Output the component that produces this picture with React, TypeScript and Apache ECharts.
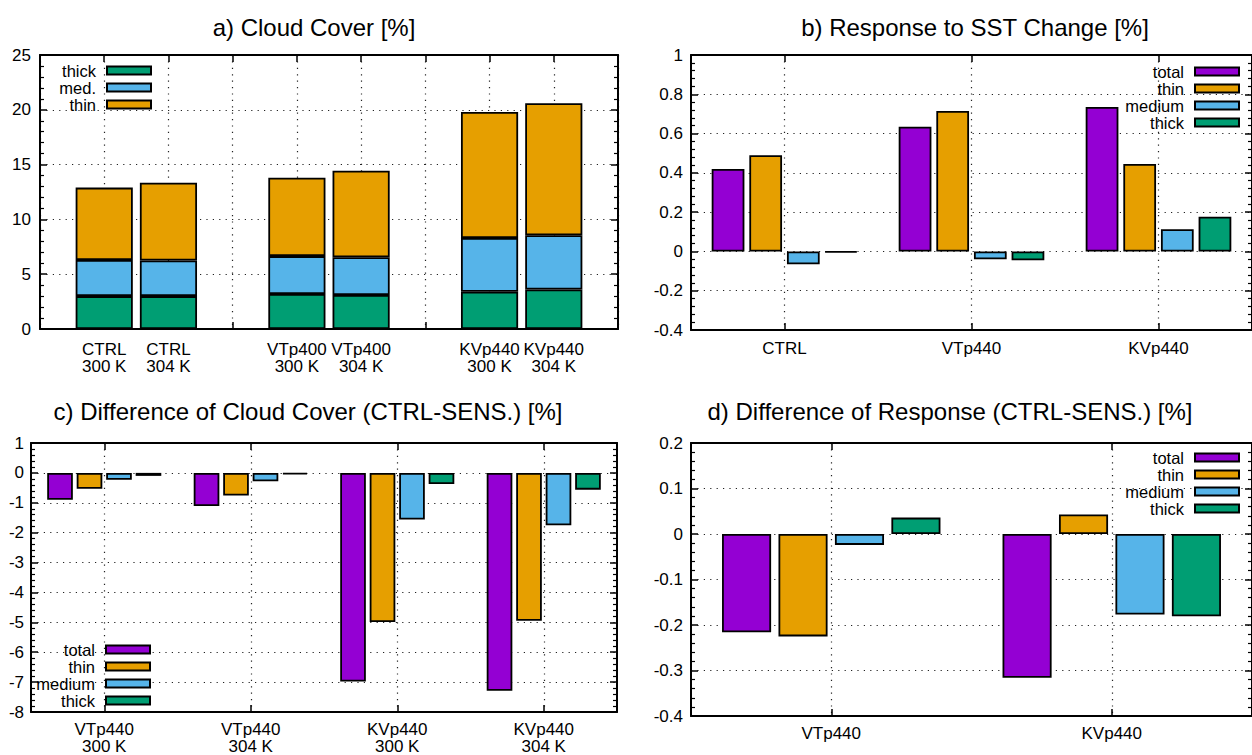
import React, { useEffect, useRef } from "react";
import * as echarts from "echarts";

const FONT = "'Liberation Sans', Arial, Helvetica, sans-serif";

const COLOR_TOTAL = "#9400D3";
const COLOR_THIN = "#E69F00";
const COLOR_MEDIUM = "#56B4E9";
const COLOR_THICK = "#009E73";

// a) Cloud cover, stacked by cloud type (empty slots separate the experiments)
const coverCategories = [
  "",
  "CTRL\n300 K",
  "CTRL\n304 K",
  "",
  "VTp400\n300 K",
  "VTp400\n304 K",
  "",
  "KVp440\n300 K",
  "KVp440\n304 K",
  "",
];
const coverThick = [null, 3.0, 3.0, null, 3.2, 3.1, null, 3.4, 3.6, null];
const coverMed = [null, 3.3, 3.25, null, 3.45, 3.45, null, 4.9, 4.95, null];
const coverThin = [null, 6.6, 7.1, null, 7.15, 7.9, null, 11.5, 12.05, null];

// b) Response to SST change
const responseCategories = ["CTRL", "VTp440", "KVp440"];
const responseTotal = [0.42, 0.635, 0.735];
const responseThin = [0.49, 0.715, 0.445];
const responseMedium = [-0.065, -0.04, 0.113];
const responseThick = [-0.005, -0.045, 0.177];

// c) Difference of cloud cover (CTRL - SENS.)
const diffCoverCategories = ["VTp440\n300 K", "VTp440\n304 K", "KVp440\n300 K", "KVp440\n304 K"];
const diffCoverTotal = [-0.9, -1.11, -6.98, -7.29];
const diffCoverThin = [-0.53, -0.76, -4.99, -4.95];
const diffCoverMedium = [-0.23, -0.28, -1.56, -1.75];
const diffCoverThick = [-0.1, -0.05, -0.37, -0.56];

// d) Difference of response (CTRL - SENS.)
const diffResponseCategories = ["VTp440", "KVp440"];
const diffResponseTotal = [-0.216, -0.316];
const diffResponseThin = [-0.225, 0.043];
const diffResponseMedium = [-0.024, -0.177];
const diffResponseThick = [0.036, -0.181];

const coverLegend = ["thick", "med.", "thin"];
const typeLegend = ["total", "thin", "medium", "thick"];

const dotted = { color: "#222", width: 1.2, type: [1.2, 5.2] };
const borderLine = { color: "#000", width: 2 };
const tickLine = { color: "#000", width: 1.5 };

function bottomAxis(gridIndex: number, data: string[], boundaryGap: boolean, margin: number) {
  return {
    type: "category",
    gridIndex,
    data,
    boundaryGap,
    position: "bottom",
    axisLine: { show: true, onZero: false, lineStyle: borderLine },
    axisTick: { show: true, inside: true, alignWithLabel: true, length: 7, interval: 0, lineStyle: tickLine },
    axisLabel: { interval: 0, margin, fontSize: 17, lineHeight: 17, color: "#000", fontFamily: FONT },
    splitLine: { show: true, interval: 0, alignWithLabel: true, lineStyle: dotted },
  };
}

function topAxis(gridIndex: number, data: string[], boundaryGap: boolean) {
  return {
    type: "category",
    gridIndex,
    data,
    boundaryGap,
    position: "top",
    axisLine: { show: true, onZero: false, lineStyle: borderLine },
    axisTick: { show: true, inside: true, alignWithLabel: true, length: 7, interval: 0, lineStyle: tickLine },
    axisLabel: { show: false },
    splitLine: { show: false },
  };
}

function sideAxis(gridIndex: number, min: number, max: number, interval: number, position: string, margin: number) {
  const left = position === "left";
  return {
    type: "value",
    gridIndex,
    min,
    max,
    interval,
    position,
    axisLine: { show: true, onZero: false, lineStyle: borderLine },
    axisTick: { show: true, inside: true, length: 7, lineStyle: tickLine },
    minorTick: { show: true, splitNumber: 5, length: 4, lineStyle: { color: "#000", width: 1.2 } },
    axisLabel: { show: left, margin, fontSize: 17, color: "#000", fontFamily: FONT },
    splitLine: { show: left, lineStyle: dotted },
  };
}

function bar(name: string, data: (number | null)[], color: string, panel: number, extra: object) {
  return {
    type: "bar",
    name,
    data,
    xAxisIndex: panel * 2,
    yAxisIndex: panel * 2,
    itemStyle: { color, borderColor: "#000", borderWidth: 1.8 },
    emphasis: { disabled: true },
    ...extra,
  };
}

function legend(data: string[], right: number, top: number) {
  return {
    data,
    orient: "vertical",
    align: "right",
    right,
    top,
    padding: 0,
    itemGap: 0,
    itemWidth: 44,
    itemHeight: 8,
    icon: "rect",
    selectedMode: false,
    itemStyle: { borderColor: "#000", borderWidth: 2 },
    textStyle: { fontSize: 16.5, lineHeight: 17, color: "#000", fontFamily: FONT, padding: [0, 6, 0, 0] },
  };
}

function title(text: string, centerX: number, top: number) {
  return {
    text,
    left: centerX,
    top,
    textAlign: "center",
    padding: 0,
    textStyle: { fontSize: 24, fontWeight: "normal", color: "#000", fontFamily: FONT },
  };
}

export default function App() {
  const ref = useRef<HTMLDivElement>(null);

  useEffect(() => {
    if (!ref.current) return;
    const chart = echarts.init(ref.current, null, { renderer: "svg" });

    const grouped = { barWidth: "17.5%", barGap: "15%" };
    const stacked = { stack: "cover", barWidth: "89%" };

    chart.setOption({
      animation: false,
      textStyle: { fontFamily: FONT },
      title: [
        title("a) Cloud Cover [%]", 314, 15),
        title("b) Response to SST Change [%]", 975, 15),
        title("c) Difference of Cloud Cover (CTRL-SENS.) [%]", 308, 399),
        title("d) Difference of Response (CTRL-SENS.) [%]", 950, 399),
      ],
      legend: [
        legend(coverLegend, 1100, 62),
        legend(typeLegend, 12, 63),
        legend(typeLegend, 1101, 641),
        legend(typeLegend, 12, 449),
      ],
      grid: [
        { left: 40, top: 55, width: 578, height: 274 },
        { left: 691, top: 55, width: 567, height: 275 },
        { left: 31, top: 443, width: 586, height: 273 },
        { left: 691, top: 443, width: 567, height: 273 },
      ],
      xAxis: [
        bottomAxis(0, coverCategories, false, 12),
        topAxis(0, coverCategories, false),
        bottomAxis(1, responseCategories, true, 10),
        topAxis(1, responseCategories, true),
        bottomAxis(2, diffCoverCategories, true, 9),
        topAxis(2, diffCoverCategories, true),
        bottomAxis(3, diffResponseCategories, true, 9),
        topAxis(3, diffResponseCategories, true),
      ],
      yAxis: [
        sideAxis(0, 0, 25, 5, "left", 9),
        sideAxis(0, 0, 25, 5, "right", 9),
        sideAxis(1, -0.4, 1, 0.2, "left", 8),
        sideAxis(1, -0.4, 1, 0.2, "right", 8),
        sideAxis(2, -8, 1, 1, "left", 7),
        sideAxis(2, -8, 1, 1, "right", 7),
        sideAxis(3, -0.4, 0.2, 0.1, "left", 8),
        sideAxis(3, -0.4, 0.2, 0.1, "right", 8),
      ],
      series: [
        bar("thick", coverThick, COLOR_THICK, 0, stacked),
        bar("med.", coverMed, COLOR_MEDIUM, 0, stacked),
        bar("thin", coverThin, COLOR_THIN, 0, stacked),

        bar("total", responseTotal, COLOR_TOTAL, 1, grouped),
        bar("thin", responseThin, COLOR_THIN, 1, grouped),
        bar("medium", responseMedium, COLOR_MEDIUM, 1, grouped),
        bar("thick", responseThick, COLOR_THICK, 1, grouped),

        bar("total", diffCoverTotal, COLOR_TOTAL, 2, grouped),
        bar("thin", diffCoverThin, COLOR_THIN, 2, grouped),
        bar("medium", diffCoverMedium, COLOR_MEDIUM, 2, grouped),
        bar("thick", diffCoverThick, COLOR_THICK, 2, grouped),

        bar("total", diffResponseTotal, COLOR_TOTAL, 3, grouped),
        bar("thin", diffResponseThin, COLOR_THIN, 3, grouped),
        bar("medium", diffResponseMedium, COLOR_MEDIUM, 3, grouped),
        bar("thick", diffResponseThick, COLOR_THICK, 3, grouped),
      ],
    });

    return () => chart.dispose();
  }, []);

  return (
    <div
      ref={ref}
      style={{ position: "fixed", left: 0, top: 0, width: 1252, height: 755, background: "#fff" }}
    />
  );
}
